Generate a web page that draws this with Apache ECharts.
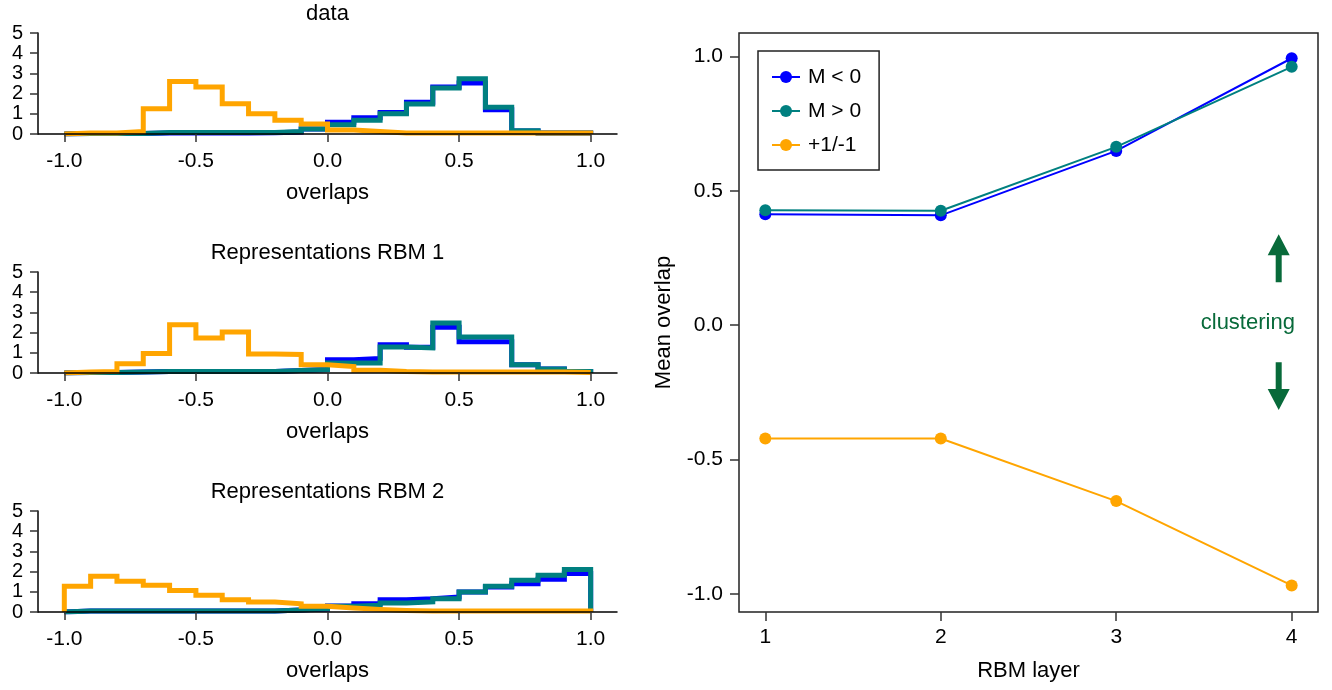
<!DOCTYPE html>
<html>
<head>
<meta charset="utf-8">
<script src="https://cdn.jsdelivr.net/npm/echarts@6/dist/echarts.min.js"></script>
<style>
  html, body { margin: 0; padding: 0; background: #ffffff; }
  #chart { width: 1332px; height: 690px; }
</style>
</head>
<body>
<div id="chart"></div>
<script>
// Histogram bin edges of the overlap distributions
const overlapEdges = [-1.0, -0.9, -0.8, -0.7, -0.6, -0.5, -0.4, -0.3, -0.2, -0.1, 0.0,
                      0.1, 0.2, 0.3, 0.4, 0.5, 0.6, 0.7, 0.8, 0.9, 1.0];

// Panel titles for the three histograms
const histTitles = ['data', 'Representations RBM 1', 'Representations RBM 2'];

// Normalised counts per bin: data
const dataNeg = [0.03, 0.03, 0.03, 0.05, 0.05, 0.05, 0.05, 0.06, 0.10, 0.25,
                 0.58, 0.80, 1.07, 1.57, 2.33, 2.52, 1.20, 0.15, 0.05, 0.05];
const dataPos = [0.03, 0.03, 0.03, 0.08, 0.08, 0.08, 0.08, 0.08, 0.12, 0.25,
                 0.46, 0.68, 1.00, 1.48, 2.28, 2.74, 1.32, 0.16, 0.05, 0.05];
const dataPm  = [0.05, 0.05, 0.12, 1.25, 2.60, 2.33, 1.50, 1.00, 0.68, 0.50,
                 0.20, 0.12, 0.05, 0.05, 0.05, 0.05, 0.05, 0.05, 0.05, 0.05];

// Normalised counts per bin: representations RBM 1
const rbm1Neg = [0.03, 0.03, 0.05, 0.08, 0.08, 0.08, 0.08, 0.08, 0.12, 0.17,
                 0.66, 0.72, 1.40, 1.27, 2.26, 1.55, 1.55, 0.41, 0.20, 0.07];
const rbm1Pos = [0.03, 0.03, 0.05, 0.08, 0.08, 0.08, 0.08, 0.08, 0.12, 0.17,
                 0.50, 0.50, 1.29, 1.24, 2.48, 1.78, 1.78, 0.41, 0.20, 0.07];
const rbm1Pm  = [0.05, 0.08, 0.46, 0.96, 2.39, 1.73, 2.03, 0.94, 0.92, 0.41,
                 0.32, 0.13, 0.07, 0.05, 0.05, 0.05, 0.05, 0.05, 0.05, 0.03];

// Normalised counts per bin: representations RBM 2
const rbm2Neg = [0.05, 0.05, 0.05, 0.05, 0.05, 0.05, 0.05, 0.05, 0.10, 0.15,
                 0.30, 0.41, 0.61, 0.66, 0.74, 0.99, 1.24, 1.40, 1.62, 1.90];
const rbm2Pos = [0.05, 0.05, 0.05, 0.05, 0.05, 0.05, 0.05, 0.05, 0.10, 0.17,
                 0.28, 0.33, 0.45, 0.50, 0.66, 0.99, 1.27, 1.57, 1.82, 2.10];
const rbm2Pm  = [1.27, 1.77, 1.52, 1.32, 1.07, 0.83, 0.61, 0.50, 0.41, 0.28,
                 0.20, 0.13, 0.08, 0.05, 0.05, 0.05, 0.05, 0.05, 0.05, 0.05];

// Mean overlap per RBM layer
const rbmLayers = [1, 2, 3, 4];
const meanNeg = [0.413, 0.409, 0.649, 0.994];
const meanPos = [0.428, 0.426, 0.664, 0.962];
const meanPm  = [-0.422, -0.422, -0.655, -0.969];

// Tick values
const histXTicks = [-1.0, -0.5, 0.0, 0.5, 1.0];
const meanYTicks = [-1.0, -0.5, 0.0, 0.5, 1.0];

// Clustering annotation (x, arrow start, arrow end) in data units
const arrowX = [3.926, 3.926];
const arrowFrom = [0.160, -0.138];
const arrowTo = [0.339, -0.316];
const clusterLabel = [3.75, 0.015];

const seriesNames = ['M < 0', 'M > 0', '+1/-1'];
const colNeg = '#0000ff', colPos = '#008080', colPm = '#ffa500', colGreen = '#086a3a';
const FONT = "'Liberation Sans', Arial, Helvetica, sans-serif";

const histData = [
  [dataNeg, dataPos, dataPm],
  [rbm1Neg, rbm1Pos, rbm1Pm],
  [rbm2Neg, rbm2Pos, rbm2Pm]
];

// layout of the three histogram panels
const histTops = [33, 272, 511];
const histHeight = 101;
const histLeft = 38, histWidth = 579;

// Step outline of a histogram, closed down to zero at both ends
function stepPoints(counts) {
  const pts = [[overlapEdges[0], 0]];
  counts.forEach((c, i) => {
    pts.push([overlapEdges[i], c]);
    pts.push([overlapEdges[i + 1], c]);
  });
  pts.push([overlapEdges[counts.length], 0]);
  return pts;
}

const grids = [], xAxes = [], yAxes = [], series = [], titles = [];

histTops.forEach((top, k) => {
  grids.push({ left: histLeft, top: top, width: histWidth, height: histHeight });
  titles.push({
    text: histTitles[k], left: histLeft + histWidth / 2, top: top - 30, textAlign: 'center', padding: 0,
    textStyle: { fontFamily: FONT, fontSize: 22, fontWeight: 'normal', color: '#000' }
  });
  xAxes.push({
    type: 'value', gridIndex: k, min: -1.1, max: 1.1, z: 5,
    name: 'overlaps', nameLocation: 'middle', nameGap: 48,
    nameTextStyle: { fontFamily: FONT, fontSize: 22, color: '#000' },
    splitLine: { show: false },
    axisLine: { show: true, onZero: false, lineStyle: { color: '#000', width: 1.5 } },
    axisTick: { show: true, length: 8, customValues: histXTicks, lineStyle: { color: '#333', width: 1.5 } },
    axisLabel: { customValues: histXTicks, margin: 17, fontFamily: FONT, fontSize: 21, color: '#000',
                 formatter: v => v.toFixed(1) }
  });
  yAxes.push({
    type: 'value', gridIndex: k, min: 0, max: 5, interval: 1, z: 5,
    splitLine: { show: false },
    axisLine: { show: true, onZero: false, lineStyle: { color: '#000', width: 1.5 } },
    axisTick: { show: true, length: 8, lineStyle: { color: '#333', width: 1.5 } },
    axisLabel: { interval: 0, margin: 15, fontFamily: FONT, fontSize: 20, color: '#000',
                 lineHeight: 14, hideOverlap: false, showMinLabel: true, showMaxLabel: true,
                 formatter: v => String(v) }
  });
  const cols = [colNeg, colPos, colPm];
  histData[k].forEach((counts, j) => {
    series.push({
      type: 'line', xAxisIndex: k, yAxisIndex: k, data: stepPoints(counts),
      showSymbol: false, symbol: 'none', silent: true, z: 2 + j * 0.1,
      lineStyle: { color: cols[j], width: 5, join: 'miter', cap: 'butt' },
      clip: true, animation: false
    });
  });
});

// Right panel: mean overlap vs RBM layer
grids.push({ left: 739, top: 33, width: 579, height: 579, show: true,
             borderColor: '#222', borderWidth: 1.5, backgroundColor: 'transparent' });
xAxes.push({
  type: 'value', gridIndex: 3, min: 0.85, max: 4.15,
  name: 'RBM layer', nameLocation: 'middle', nameGap: 48,
  nameTextStyle: { fontFamily: FONT, fontSize: 22, color: '#000' },
  splitLine: { show: false }, axisLine: { show: false, onZero: false },
  axisTick: { show: true, length: 9, customValues: rbmLayers, lineStyle: { color: '#333', width: 1.5 } },
  axisLabel: { customValues: rbmLayers, margin: 15, fontFamily: FONT, fontSize: 21, color: '#000',
               formatter: v => String(v) }
});
yAxes.push({
  type: 'value', gridIndex: 3, min: -1.068, max: 1.088,
  name: 'Mean overlap', nameLocation: 'middle', nameGap: 64, nameRotate: 90,
  nameTextStyle: { fontFamily: FONT, fontSize: 22, color: '#000' },
  splitLine: { show: false }, axisLine: { show: false, onZero: false },
  axisTick: { show: true, length: 9, customValues: meanYTicks, lineStyle: { color: '#333', width: 1.5 } },
  axisLabel: { customValues: meanYTicks, margin: 16, fontFamily: FONT, fontSize: 21, color: '#000',
               formatter: v => v.toFixed(1) }
});

[[meanNeg, colNeg], [meanPos, colPos], [meanPm, colPm]].forEach(([vals, col], j) => {
  series.push({
    name: seriesNames[j], type: 'line', xAxisIndex: 3, yAxisIndex: 3,
    data: rbmLayers.map((x, i) => [x, vals[i]]),
    symbol: 'circle', symbolSize: 12, showSymbol: true,
    itemStyle: { color: col }, lineStyle: { color: col, width: 2 },
    z: 3 + j * 0.1, animation: false
  });
});

// Clustering arrows
series.push({
  type: 'custom', xAxisIndex: 3, yAxisIndex: 3, silent: true, z: 4,
  data: arrowX.map((x, i) => [x, arrowFrom[i], arrowTo[i]]),
  encode: { x: 0, y: [1, 2] },
  renderItem: function (params, api) {
    const p0 = api.coord([api.value(0), api.value(1)]);
    const p1 = api.coord([api.value(0), api.value(2)]);
    const dir = p1[1] > p0[1] ? 1 : -1;
    const headLen = 21, headHalf = 11, shaftHalf = 3;
    const hy = p1[1] - dir * headLen;
    const x = p0[0];
    return {
      type: 'polygon',
      shape: { points: [
        [x - shaftHalf, p0[1]], [x - shaftHalf, hy], [x - headHalf, hy], [x, p1[1]],
        [x + headHalf, hy], [x + shaftHalf, hy], [x + shaftHalf, p0[1]]
      ] },
      style: { fill: colGreen }
    };
  },
  animation: false
});

// Clustering label
series.push({
  type: 'custom', xAxisIndex: 3, yAxisIndex: 3, silent: true, z: 4,
  data: [clusterLabel],
  renderItem: function (params, api) {
    const p = api.coord([api.value(0), api.value(1)]);
    return {
      type: 'text',
      style: { text: 'clustering', x: p[0], y: p[1] + 2, align: 'center', verticalAlign: 'middle',
               fill: colGreen, font: '22px ' + FONT }
    };
  },
  animation: false
});

const chart = echarts.init(document.getElementById('chart'), null, { renderer: 'canvas' });
chart.setOption({
  backgroundColor: '#ffffff',
  animation: false,
  textStyle: { fontFamily: FONT },
  title: titles,
  legend: {
    data: seriesNames, orient: 'vertical', left: 758, top: 51,
    backgroundColor: '#ffffff', borderColor: '#222', borderWidth: 1.5, borderRadius: 0,
    padding: [15, 18, 14, 13], itemGap: 12, itemWidth: 28, itemHeight: 15,
    textStyle: { fontFamily: FONT, fontSize: 21, color: '#000', lineHeight: 22, padding: [0, 0, 0, 3] }
  },
  grid: grids,
  xAxis: xAxes,
  yAxis: yAxes,
  series: series
});
</script>
</body>
</html>
